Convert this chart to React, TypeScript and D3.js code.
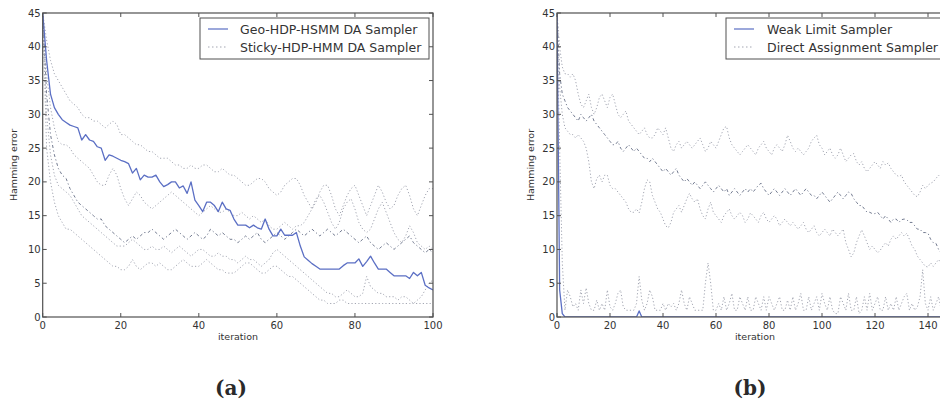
import React from 'react';
import * as d3 from 'd3';

// ---------- DATA ----------
const yTicks = [0, 5, 10, 15, 20, 25, 30, 35, 40, 45];
const xTicksA = [0, 20, 40, 60, 80, 100];
const xTicksB = [0, 20, 40, 60, 80, 100, 120, 140];
const legendA = ['Geo-HDP-HSMM DA Sampler', 'Sticky-HDP-HMM DA Sampler'];
const legendB = ['Weak Limit Sampler', 'Direct Assignment Sampler'];

const geoHsmm = [
  45, 38, 33, 31, 30, 29.2, 28.8, 28.4, 28.2, 28,
  26.2, 27, 26.2, 26, 25.2, 25, 23.2, 24, 23.8, 23.5,
  23.2, 23, 22.7, 21.3, 22, 20.3, 21, 20.7, 20.7, 21,
  20, 19.3, 19.6, 20, 20, 19.1, 19.4, 18.3, 20, 17.3,
  16.5, 15.6, 17, 17, 16.5, 15.6, 17, 16, 15.8, 14.5,
  13.6, 13.6, 13.6, 13.2, 13.6, 13.2, 13, 14.5, 13, 12,
  12, 13, 12.1, 12.1, 12.1, 12.5, 10.5, 8.9, 8.4, 7.9,
  7.5, 7.1, 7.1, 7.1, 7.1, 7.1, 7.1, 7.6, 8, 8,
  8, 8.6, 7.5, 8.2, 9, 8, 7.1, 7.1, 7.1, 6.6,
  6.1, 6.1, 6.1, 6.1, 5.7, 6.6, 6.1, 6.6, 4.7, 4.3,
  4,
];

const stickyRun1 = [
  45, 41, 38, 36, 35, 34, 33, 32, 31.5, 31,
  30, 29.5, 29.5, 29, 29, 28.5, 28, 28.5, 29, 28.5,
  27, 27, 26.5, 26, 25.5, 25.5, 25, 24.5, 24.5, 24,
  23.5, 23.5, 23.5, 23, 22.5, 22.5, 22, 22, 22.5, 22,
  22, 22.5, 22.5, 22, 21.5, 21.5, 22, 21.5, 21, 21,
  20.5, 20, 19.5, 19.5, 20, 20.5, 20.5, 20, 19, 18.5,
  18, 18.5, 19.5, 20, 20.5, 20.5, 19.5, 18, 17, 16,
  17, 18.5, 19.5, 19.5, 18, 16, 15, 16.5, 18, 19,
  19.5, 18, 16.5, 15, 16.5, 18, 19.5, 18.5, 17, 16,
  16.5, 18, 19, 19.5, 18, 16, 15, 16.5, 18, 19,
  19,
];
const stickyRun2 = [
  45, 36, 31, 28, 26, 25.5, 25.5, 25, 24, 23.5,
  23, 22.5, 22, 21, 20, 19.5, 19.5, 21, 22, 21,
  19, 17.5, 16.5, 17.5, 18.5, 18, 17, 16.5, 16, 16.5,
  17, 17.5, 18, 18.5, 18, 17.5, 17, 16.5, 16, 15.5,
  15, 15.5, 16, 16.5, 16, 15.5, 15.5, 16, 15.5, 15,
  15, 15.5, 15, 14.5, 15, 14.5, 14, 14.5, 13.5, 13,
  13, 13.5, 14, 13.5, 13, 13.5, 13.5, 14, 15, 16,
  17.5, 18, 17, 15.5, 14, 13, 14, 16, 17, 17.5,
  16, 14, 13, 12.5, 13, 14.5, 16, 17, 15.5, 14,
  12.5, 11.5, 11, 12, 13.5, 12.5, 11, 10.5, 10, 10.5,
  10,
];
const stickyRun3 = [
  45, 33, 27, 24, 22, 21, 20.5, 19, 18, 17,
  16.5, 16, 15.5, 15, 14.5, 14.5, 13.5, 13, 12.5, 12,
  11.5, 11, 11.5, 12, 11.5, 12, 12.5, 12.5, 13, 12.5,
  12, 11.5, 12, 12.5, 13, 12.5, 12, 11.5, 12, 12.5,
  12, 11.5, 12, 13, 12.5, 12, 12.5, 12, 11.5, 11.5,
  11, 11.5, 12, 11.5, 12, 12.5, 11.5, 11, 11.5, 12,
  12.5, 12, 11.5, 12, 12.5, 13, 12.5, 12, 12.5, 13,
  12.5, 12, 12.5, 13, 12.5, 12, 12.5, 13, 12.5, 12,
  11.5, 11, 11.5, 12, 11, 10.5, 10, 10.5, 11, 10.5,
  10, 10.5, 11, 11.5, 12, 11, 10.5, 10, 9.5, 10,
  9.5,
];
const stickyRun4 = [
  45, 30, 24, 21, 19.5, 19, 18.5, 18, 17, 16,
  15, 14.5, 14, 13.5, 13, 12.5, 12, 11.5, 11, 10.5,
  10.5, 10.5, 11, 11.5, 11, 10.5, 10, 10, 10.5, 10,
  10, 10.5, 10, 9.5, 10, 10.5, 10, 9.5, 9, 9.5,
  10, 10, 9.5, 9, 9, 9.5, 9, 9, 8.5, 8.5,
  8, 8.5, 9, 8.5, 8.5, 8, 7.5, 8, 8.5, 9.5,
  10, 9.5, 9, 8.5, 8, 7.5, 7, 6.5, 6, 5.5,
  5, 4.5, 4, 3.5, 3.5, 3, 3, 3.5, 4, 3.5,
  3, 3, 3.5, 6, 4.5, 4, 3.5, 3.5, 3, 3,
  3, 2.5, 3, 3, 2.5, 2, 2.5, 3, 4, 5,
  5.5,
];
const stickyRun5 = [
  45, 25, 20, 17, 15, 14, 13, 13, 12.5, 12,
  11.5, 11, 10.5, 10, 9.5, 9, 8.5, 8, 7.5, 7.5,
  7, 7, 7.5, 8.5, 7.5, 7, 7.5, 8, 8, 7.5,
  8, 7.5, 7, 7, 7.5, 8, 8.5, 8, 7.5, 7.5,
  7.5, 8, 8.5, 8, 7.5, 7, 7, 6.5, 6.5, 6.5,
  7, 7.5, 8, 8, 7.5, 7, 6.5, 6.5, 7, 7.5,
  7.5, 7, 6.5, 6, 6, 5.5, 5, 4.5, 4, 3.5,
  3, 2.5, 2.5, 2, 2, 2, 2.5, 2.5, 2, 2,
  2, 2, 2, 2, 2, 2, 2, 2, 2, 2,
  2, 2, 2, 2, 2, 2, 2, 2, 2, 2,
  2,
];

const weakLimit = [45, 4, 0.5, 0, 0, 0, 0, 0, 0, 0,
  0, 0, 0, 0, 0, 0, 0, 0, 0, 0,
  0, 0, 0, 0, 0, 0, 0, 0, 0, 0,
  0, 0.9, 0, 0, 0, 0, 0, 0, 0, 0,
  0, 0, 0, 0, 0, 0, 0, 0, 0, 0,
  0, 0, 0, 0, 0, 0, 0, 0, 0, 0,
  0, 0, 0, 0, 0, 0, 0, 0, 0, 0,
  0, 0, 0, 0, 0, 0, 0, 0, 0, 0,
  0, 0, 0, 0, 0, 0, 0, 0, 0, 0,
  0, 0, 0, 0, 0, 0, 0, 0, 0, 0,
  0, 0, 0, 0, 0, 0, 0, 0, 0, 0,
  0, 0, 0, 0, 0, 0, 0, 0, 0, 0,
  0, 0, 0, 0, 0, 0, 0, 0, 0, 0,
  0, 0, 0, 0, 0, 0, 0, 0, 0, 0,
  0, 0, 0, 0, 0, 0, 0, 0, 0, 0,
  0,
];

const directRun1 = [
  45, 40, 37, 36, 36, 35.5, 36, 35, 33, 31.5,
  31, 32, 33, 31, 30, 31, 32.5, 33, 32, 31,
  32.5, 33, 31.5, 30, 29.5, 30, 30.5, 29, 28.5, 28,
  27.5, 27, 27.5, 28, 27, 26.5, 26.5, 27, 28, 27.5,
  27, 28, 26.5, 25, 24.5, 25.5, 26, 25, 25.5, 26,
  25.5, 25, 25.5, 26, 26.5, 25.5, 24.5, 25, 26, 25.5,
  25, 26, 27, 28, 28.2, 26.5, 25.5, 25, 24.5, 24,
  24.5, 25, 25.5, 25, 24.5, 24, 25, 25.5, 26, 25,
  24.5, 24, 25, 25.5, 25, 24.5, 25.5, 26.9, 26, 25,
  24.5, 25, 24.5, 24, 24.5, 25, 26, 26.5, 26.9, 25.5,
  25, 24, 24.5, 25, 24, 23.5, 24, 25, 24, 23,
  23.5, 24, 24.2, 23, 22.5, 23, 22, 21.5, 22, 22.5,
  23, 22.5, 22, 23, 22.5, 22.8, 22, 21.5, 21, 20.8,
  21, 20, 19.5, 19, 18.5, 18, 17.8, 18.5, 19.5, 19,
  19.5, 19.8, 20, 20.5, 21, 20.5, 20, 20.5, 21, 21,
  20.5,
];
const directRun2 = [
  45, 36, 33, 32, 31, 30.5, 30, 29.5, 29, 30,
  29.5, 29, 29.5, 30, 29, 28.5, 28, 27.5, 27, 26.5,
  26, 25.5, 25.5, 26, 25, 24.5, 25, 25.5, 25, 24.5,
  25, 24.5, 24, 23.5, 23.5, 23, 23.5, 23, 22.5, 22,
  21.5, 22, 21.5, 21, 21.5, 22, 21, 20.5, 20, 20.5,
  20, 19.5, 20, 19.5, 19, 19.5, 20, 19.5, 19, 18.5,
  19, 19.5, 19, 18.5, 19, 18, 18.5, 19, 18.5, 18,
  18.5, 19, 18.5, 19, 18.5, 19, 19.5, 19.8, 19, 18.5,
  18, 18.5, 19, 18.5, 18, 18.5, 19, 18.5, 18, 18.5,
  19, 18.5, 18, 18.5, 19, 18.5, 18, 18, 17.5, 18,
  18.5, 18, 17.5, 17, 17.5, 18, 18.5, 18, 17.5, 18,
  18.5, 18.3, 17.5, 17, 16.5, 16.5, 16, 15.5, 15.5, 15.3,
  15.3, 15.5, 15, 14.5, 15, 14.5, 14, 14.5, 14.5, 14,
  14.4, 14.5, 14.4, 14, 14, 13.5, 13, 13, 12.5, 12.5,
  12.4, 11.5, 11, 10.9, 10, 9.5, 10, 9.5, 9, 9.5,
  9,
];
const directRun3 = [
  45, 34, 30, 28, 27.5, 27, 27, 26.5, 27, 26.5,
  26, 25, 23, 20, 19, 20.5, 21, 20, 21, 21,
  19.5, 19, 19, 18.5, 18, 17.5, 17, 16, 15.5, 15.5,
  16, 15.4, 17, 19, 20.3, 20, 18, 17, 16, 15.5,
  14.5, 13.5, 13.2, 14, 15.5, 16, 16.5, 15.5, 16.5, 17.5,
  18.3, 17.5, 17, 17.5, 16, 15, 14.5, 16, 17, 15.5,
  15, 14.5, 14, 15, 15.5, 16, 15, 14.5, 15, 15.5,
  15, 14, 14.5, 15.4, 15, 14.5, 14, 15, 15.5, 14.5,
  14, 14.5, 15, 14.5, 13.5, 14, 14.5, 14, 13.5, 14,
  13.5, 13, 13.5, 14, 13, 12.5, 13, 13.5, 12.5, 12,
  12.5, 13, 12.5, 12, 13, 12.5, 12, 12.5, 13, 11,
  10, 8.9, 9.5, 11, 12, 12.9, 12, 11, 10, 10.5,
  10, 9.5, 9.9, 10.5, 11, 10.5, 11.5, 12, 11.5, 12,
  12.5, 12, 12.4, 11.5, 10.5, 10, 9, 8.5, 8, 7.5,
  7.4, 8, 7.5, 8, 8.5, 8, 7.5, 8, 8.5, 8,
  8,
];
const directRun4 = [
  45, 25, 8, 1, 4, 3, 1.5, 2, 1, 4,
  2, 4.3, 2, 1, 1, 2.5, 1, 2, 1, 4,
  1.5, 1, 2, 3.5, 4, 1.5, 1, 1, 1, 1,
  2, 6, 2.5, 1, 2, 4, 3, 1, 1, 1,
  2, 1, 2, 1.5, 2, 1, 2, 4, 2, 1,
  3, 2, 1, 1, 1, 1, 5, 8, 5, 1,
  1, 2, 1, 3, 1, 2, 3.5, 1, 1, 3,
  2, 1, 3, 1, 1, 3, 2, 1, 3, 1,
  3, 2, 1, 2, 3, 1, 1, 2.5, 1, 3,
  1, 2, 3.5, 1, 1, 3, 1, 2, 3, 1,
  3.5, 2, 1, 3, 1, 0.5, 0.5, 3, 2, 1,
  3.5, 1, 1, 3, 0.5, 1, 3, 1, 3.5, 1,
  2, 3, 1, 1, 3, 1, 2, 1, 3, 1,
  2, 3, 3.5, 1, 2, 1, 1.5, 3, 7, 2,
  1, 3, 1, 2, 3, 1, 2, 1, 3, 1,
  2,
];

// ---------- STYLE ----------
const BLUE = '#5b6fc4';
const GREY = '#a3a6b2';
const DARK = '#737b90';
const AXIS = '#505050';
const TEXT = '#333333';
const FONT = 'DejaVu Sans, sans-serif';

type Run = { values: number[]; color: string; dash: string; width: number };

function Panel({ x0, x1, top, bottom, xMax, xTicks, runs, legend, legendBox, title, titleX, ylabelX, xlabelX }: any) {
  const xs = d3.scaleLinear().domain([0, xMax]).range([x0, x1]);
  const ys = d3.scaleLinear().domain([0, 45]).range([bottom, top]);
  const line = d3.line<number>().x((_, i) => xs(i)).y((d) => ys(d));
  const clipId = 'clip' + Math.round(x0);
  return (
    <g>
      <defs>
        <clipPath id={clipId}>
          <rect x={x0} y={top} width={x1 - x0} height={bottom - top} />
        </clipPath>
      </defs>
      <g clipPath={`url(#${clipId})`}>
        {runs.map((r: Run, k: number) => (
          <path key={k} d={line(r.values) || ''} fill="none" stroke={r.color}
            strokeWidth={r.width} strokeDasharray={r.dash} strokeLinejoin="round" />
        ))}
      </g>
      <rect x={x0} y={top} width={x1 - x0} height={bottom - top} fill="none" stroke={AXIS} strokeWidth={1.2} />
      {yTicks.map((t) => (
        <g key={'y' + t}>
          <line x1={x0} x2={x0 + 4} y1={ys(t)} y2={ys(t)} stroke={AXIS} />
          <line x1={x1} x2={x1 - 4} y1={ys(t)} y2={ys(t)} stroke={AXIS} />
          <text x={x0 - 2} y={ys(t) + 3.5} textAnchor="end" fontSize={10} fill={TEXT} fontFamily={FONT}>{t}</text>
        </g>
      ))}
      {xTicks.map((t: number) => (
        <g key={'x' + t}>
          <line x1={xs(t)} x2={xs(t)} y1={bottom} y2={bottom - 4} stroke={AXIS} />
          <line x1={xs(t)} x2={xs(t)} y1={top} y2={top + 4} stroke={AXIS} />
          <text x={xs(t)} y={bottom + 12} textAnchor="middle" fontSize={10} fill={TEXT} fontFamily={FONT}>{t}</text>
        </g>
      ))}
      <text x={xlabelX} y={bottom + 23} textAnchor="middle" fontSize={9.5} fill={TEXT} fontFamily={FONT}>iteration</text>
      <text transform={`translate(${ylabelX},${(top + bottom) / 2}) rotate(-90)`} textAnchor="middle" fontSize={9.5} fill={TEXT} fontFamily={FONT}>Hamming error</text>
      <rect x={legendBox.x} y={legendBox.y} width={legendBox.w} height={legendBox.h} fill="#fff" stroke={AXIS} strokeWidth={1} />
      <line x1={legendBox.x + 8} x2={legendBox.x + 28} y1={legendBox.y + 11} y2={legendBox.y + 11} stroke={BLUE} strokeWidth={1.2} />
      <line x1={legendBox.x + 8} x2={legendBox.x + 28} y1={legendBox.y + 29} y2={legendBox.y + 29} stroke={GREY} strokeWidth={1.2} strokeDasharray="1.5,2.5" />
      <text x={legendBox.x + legendBox.tx} y={legendBox.y + 15.5} fontSize={12.5} fill={TEXT} fontFamily={FONT}>{legend[0]}</text>
      <text x={legendBox.x + legendBox.tx} y={legendBox.y + 33.5} fontSize={12.5} fill={TEXT} fontFamily={FONT}>{legend[1]}</text>
      <text x={titleX} y={395} textAnchor="middle" fontSize={20} fontWeight="bold" fill="#2a2a2a" fontFamily="DejaVu Serif, serif">{title}</text>
    </g>
  );
}

export default function App() {
  const dot = '1.2,2.2';
  const runsA: Run[] = [
    { values: stickyRun1, color: GREY, dash: dot, width: 1 },
    { values: stickyRun2, color: GREY, dash: dot, width: 1 },
    { values: stickyRun3, color: DARK, dash: '1.2,2.5,3,2.5', width: 1 },
    { values: stickyRun4, color: GREY, dash: dot, width: 1 },
    { values: stickyRun5, color: GREY, dash: dot, width: 1 },
    { values: geoHsmm, color: BLUE, dash: '', width: 1.3 },
  ];
  const runsB: Run[] = [
    { values: directRun1, color: GREY, dash: dot, width: 1 },
    { values: directRun2, color: DARK, dash: '1.2,2.5,3,2.5', width: 1 },
    { values: directRun3, color: GREY, dash: dot, width: 1 },
    { values: directRun4, color: GREY, dash: dot, width: 1 },
    { values: weakLimit, color: BLUE, dash: '', width: 1.3 },
  ];
  return (
    <svg width={940} height={401} style={{ position: 'absolute', left: 0, top: 0, background: '#fff' }}>
      <rect width={940} height={401} fill="#fff" />
      <Panel x0={42.7} x1={433} top={13} bottom={317} xMax={100} xTicks={xTicksA} runs={runsA}
        legend={legendA} legendBox={{ x: 200, y: 18, w: 229, h: 41, tx: 40 }} title="(a)" titleX={231} ylabelX={17} xlabelX={238} />
      <Panel x0={557} x1={954.5} top={13} bottom={317} xMax={150} xTicks={xTicksB} runs={runsB}
        legend={legendB} legendBox={{ x: 726, y: 18, w: 240, h: 41, tx: 41 }} title="(b)" titleX={750} ylabelX={534} xlabelX={755} />
    </svg>
  );
}
